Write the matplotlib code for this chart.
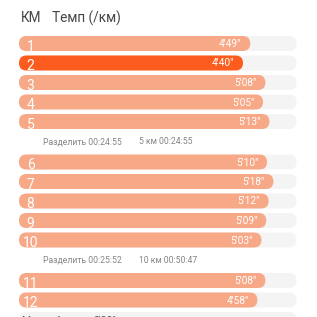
import matplotlib
matplotlib.use("Agg")
import matplotlib.pyplot as plt
from matplotlib.patches import FancyBboxPatch

plt.rcParams['font.family'] = ['Roboto', 'DejaVu Sans']

# ---- data ----
km_labels = ["1", "2", "3", "4", "5", "6", "7", "8", "9", "10", "11", "12"]
pace_labels = ["4'49\"", "4'40\"", "5'08\"", "5'05\"", "5'13\"", "5'10\"",
               "5'18\"", "5'12\"", "5'09\"", "5'03\"", "5'08\"", "4'58\""]
pace_seconds = [289, 280, 308, 305, 313, 310, 318, 312, 309, 303, 308, 298]
track_max = 347
split_texts = [("Разделить 00:24:55", "5 км 00:24:55"),
               ("Разделить 00:25:52", "10 км 00:50:47")]
header_km = "КМ"
header_pace = "Темп (/км)"
last_label = "Менее 1 км"
last_pace = "2'30\""

# ---- style ----
C_BAR = "#F7A887"
C_FAST = "#FC5D1F"
C_TRACK = "#F4F4F4"
C_HEAD = "#454545"
C_SPLIT = "#858585"

W, H = 317, 317
PX = 1 / 0.8          # seconds per pixel along x
X0 = 19               # pixel where bars begin
fig = plt.figure(figsize=(W / 100, H / 100), dpi=100)
ax = fig.add_axes([0, 0, 1, 1])
ax.set_xlim(-X0 * PX, (W - X0) * PX)
ax.set_ylim(H, 0)
ax.axis("off")

BAR_H = 15
ROW = 19.5
GAP = 21
Y_FIRST = 43.5
R = BAR_H / 2


def rbar(x, yc, w, color, z):
    p = FancyBboxPatch((x, yc - BAR_H / 2), w, BAR_H,
                       boxstyle=f"round,pad=0,rounding_size={R * PX}",
                       mutation_aspect=1 / PX, facecolor=color,
                       edgecolor="none", zorder=z)
    ax.add_patch(p)


ax.text(1.5 * PX, 18.5, header_km, fontsize=9.8, color=C_HEAD, va="center", ha="left")
ax.text(32.5 * PX, 18.5, header_pace, fontsize=9.8, color=C_HEAD, va="center", ha="left")

fastest = pace_seconds.index(min(pace_seconds))
y = Y_FIRST
for i, (km, pl, ps) in enumerate(zip(km_labels, pace_labels, pace_seconds)):
    rbar(0, y, track_max, C_TRACK, 1)
    rbar(0, y, ps, C_FAST if i == fastest else C_BAR, 2)
    ax.text(11.5 * PX, y + 7.3, km, fontsize=10, color="white", ha="center",
            va="baseline", zorder=3)
    ax.text(ps - 9 * PX, y + 0.5, pl, fontsize=7.3, color="white", ha="right",
            va="center", zorder=3)
    if (i + 1) % 5 == 0 and (i + 1) // 5 <= len(split_texts):
        s1, s2 = split_texts[(i + 1) // 5 - 1]
        ys = y + 20.5
        ax.text(24 * PX, ys, s1, fontsize=6.2, color=C_SPLIT, ha="left", va="center")
        ax.text(120 * PX, ys, s2, fontsize=6.2, color=C_SPLIT, ha="left", va="center")
        y += ROW + GAP
    else:
        y += ROW

# partially visible last row
rbar(0, y, track_max, C_TRACK, 1)
ax.text(3 * PX, y + 4, last_label, fontsize=7.5, color="#555555", ha="left",
        va="baseline", zorder=3)
ax.text(75 * PX, y + 4, last_pace, fontsize=7.5, color="#555555", ha="left",
        va="baseline", zorder=3)

fig.savefig("out.png", dpi=100, facecolor="white")
